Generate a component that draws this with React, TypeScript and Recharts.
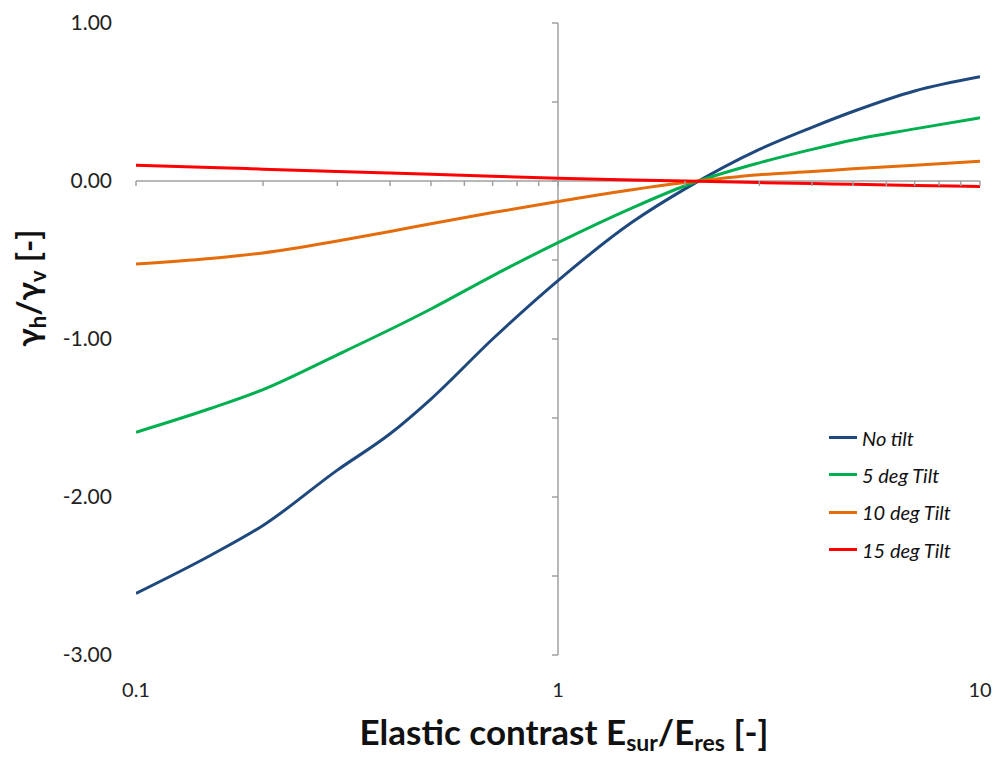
import React from 'react'
import {
  LineChart, Line, XAxis, YAxis, ReferenceLine, ReferenceDot, Legend,
} from 'recharts'

// Elastic contrast (log axis)
const contrast = [0.1, 0.15, 0.2, 0.3, 0.4, 0.5, 0.7, 1, 1.5, 2, 3, 4, 5, 7, 10]

// gamma_h / gamma_v for each tilt angle
const noTilt = [-2.61, -2.37, -2.18, -1.83, -1.6, -1.38, -1.0, -0.63, -0.26, -0.05, 0.2, 0.34, 0.44, 0.57, 0.66]
const tilt5 = [-1.59, -1.44, -1.32, -1.1, -0.94, -0.81, -0.6, -0.39, -0.17, -0.03, 0.115, 0.2, 0.26, 0.33, 0.4]
const tilt10 = [-0.525, -0.49, -0.455, -0.38, -0.32, -0.27, -0.2, -0.13, -0.055, -0.01, 0.04, 0.06, 0.077, 0.1, 0.125]
const tilt15 = [0.1, 0.086, 0.075, 0.06, 0.05, 0.042, 0.03, 0.018, 0.007, 0.0, -0.01, -0.016, -0.021, -0.028, -0.035]

const xTickLabels = [0.1, 1, 10]
const yTickLabels = [-3, -2, -1, 0, 1]
// small marks along the crossing axes
const xAxisMarks = [0.1, 0.2, 0.3, 0.4, 0.5, 0.6, 0.7, 0.8, 0.9, 1, 2, 3, 4, 5, 6, 7, 8, 9, 10]
const yAxisMarks = [-3, -2.5, -2, -1.5, -1, -0.5, 0, 0.5, 1]

const series = [
  { key: 'noTilt', name: 'No tilt', color: '#1F497D', values: noTilt },
  { key: 'tilt5', name: '5 deg Tilt', color: '#00B050', values: tilt5 },
  { key: 'tilt10', name: '10 deg Tilt', color: '#E46C0A', values: tilt10 },
  { key: 'tilt15', name: '15 deg Tilt', color: '#FF0000', values: tilt15 },
]

const data = contrast.map((x, i) => {
  const row: Record<string, number> = { x }
  series.forEach(s => { row[s.key] = s.values[i] })
  return row
})

const FONT = 'Lato, "Open Sans", sans-serif'
const AXIS_GREY = '#A0A0A0'

const XTitle = ({ viewBox }: any) => {
  const cx = viewBox.x + viewBox.width / 2 + 6
  const by = viewBox.y + 90
  return (
    <text x={cx} y={by} textAnchor="middle" fontFamily={FONT} fontWeight={700} fontSize={35} fill="#111">
      Elastic contrast E
      <tspan fontSize={23} dy={6}>sur</tspan>
      <tspan dy={-6}>/E</tspan>
      <tspan fontSize={23} dy={6}>res</tspan>
      <tspan dy={-6}> [-]</tspan>
    </text>
  )
}

const YTitle = () => {
  const x = 32
  const y = 280
  return (
    <text x={x} y={y} transform={`rotate(-90, ${x}, ${y})`} textAnchor="middle"
      fontFamily={FONT} fontWeight={700} fontSize={33} fill="#111">
      γ
      <tspan fontSize={22} dy={6}>h</tspan>
      <tspan dy={-6}>/γ</tspan>
      <tspan fontSize={22} dy={6}>v</tspan>
      <tspan dy={-6}> [-]</tspan>
    </text>
  )
}

// keep the legend in series order
const renderLegend = ({ payload }: any) => {
  const items = [...(payload || [])].sort(
    (a: any, b: any) => series.findIndex(s => s.name === a.value) - series.findIndex(s => s.name === b.value),
  )
  return (
    <div style={{ fontFamily: FONT }}>
      {items.map((entry: any) => (
        <div key={entry.value} style={{ display: 'flex', alignItems: 'center', height: 37.3 }}>
          <span style={{ display: 'inline-block', width: 28, height: 3, background: entry.color, marginRight: 5 }} />
          <span style={{ fontStyle: 'italic', fontSize: 20, color: '#111' }}>{entry.value}</span>
        </div>
      ))}
    </div>
  )
}

// downward tick on the horizontal axis line
const xMark = (p: any) => (
  <line x1={p.cx} y1={p.cy} x2={p.cx} y2={p.cy + 5} stroke={AXIS_GREY} strokeWidth={1.5} />
)
// leftward tick on the vertical axis line
const yMark = (p: any) => (
  <line x1={p.cx} y1={p.cy} x2={p.cx - 6} y2={p.cy} stroke={AXIS_GREY} strokeWidth={1.5} />
)

export default function App() {
  return (
    <div style={{ fontFamily: FONT }}>
      <LineChart width={1000} height={749} data={data} margin={{ top: 15, right: 28, bottom: 0, left: 0 }}>
        <XAxis
          dataKey="x" type="number" scale="log" domain={[0.1, 10]} ticks={xTickLabels}
          allowDataOverflow axisLine={false} tickLine={false} tickMargin={22} height={102}
          tick={{ fontSize: 20, fill: '#222', fontFamily: FONT }}
          label={<XTitle />}
        />
        <YAxis
          type="number" domain={[-3, 1]} ticks={yTickLabels} width={128}
          axisLine={false} tickLine={false} tickMargin={18}
          tickFormatter={(v: number) => v.toFixed(2)}
          tick={{ fontSize: 21, fill: '#222', fontFamily: FONT }}
          label={<YTitle />}
        />
        <ReferenceLine y={0} stroke={AXIS_GREY} strokeWidth={1.5} />
        <ReferenceLine x={1} stroke={AXIS_GREY} strokeWidth={1.5} />
        {xAxisMarks.map(t => (
          <ReferenceDot key={`xm${t}`} x={t} y={0} shape={xMark} />
        ))}
        {yAxisMarks.map(t => (
          <ReferenceDot key={`ym${t}`} x={1} y={t} shape={yMark} />
        ))}
        {series.map(s => (
          <Line
            key={s.key} dataKey={s.key} name={s.name} type="monotone"
            stroke={s.color} strokeWidth={3} dot={false} isAnimationActive={false}
          />
        ))}
        <Legend
          layout="horizontal" verticalAlign="middle" align="center"
          content={renderLegend}
          wrapperStyle={{ left: 821, top: 411, width: 170 }}
        />
      </LineChart>
    </div>
  )
}
